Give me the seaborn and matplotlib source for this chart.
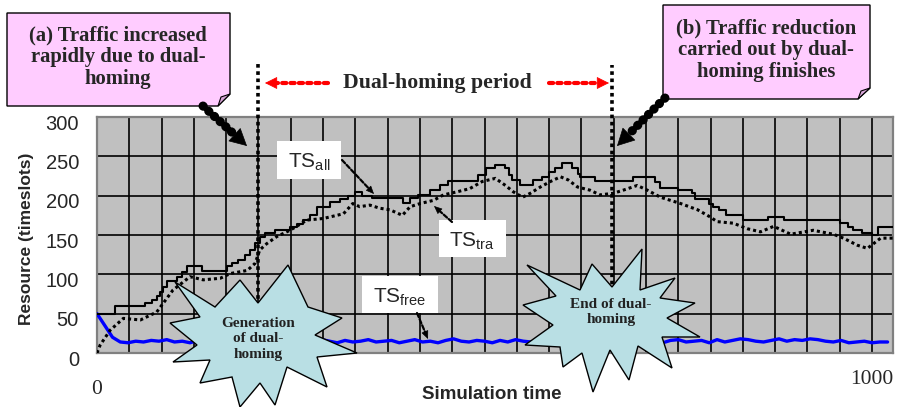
import numpy as np
import pandas as pd
import matplotlib
matplotlib.use("Agg")
import matplotlib.pyplot as plt
import seaborn as sns
from matplotlib.patches import Polygon, Rectangle, FancyArrowPatch
from matplotlib.lines import Line2D
import matplotlib.transforms as mtransforms

# ---------------- data ----------------
all_t = [0, 23, 62, 71, 77, 81, 85, 90, 103, 110, 116, 136, 168, 174, 182, 191, 197, 204,
         210, 217, 230, 249, 258, 266, 275, 284, 301, 314, 324, 333, 342, 355, 395, 404,
         414, 430, 443, 453, 492, 502, 514, 527, 531, 536, 546, 563, 574, 583, 591, 600,
         613, 620, 623, 643, 691, 720, 727, 750, 768, 772, 789, 795, 802, 811, 834, 866,
         886, 959, 969, 975, 987, 1000, 1008, 1027]
all_v = [50, 60, 64, 68, 72, 78, 84, 91, 96, 103, 110, 104, 110, 114, 118, 125, 131, 140,
         148, 152, 156, 160, 164, 169, 175, 186, 192, 196, 199, 205, 199, 197, 191, 197,
         201, 207, 213, 219, 226, 235, 239, 235, 226, 220, 214, 220, 224, 230, 235, 241,
         235, 228, 224, 219, 224, 218, 210, 207, 203, 196, 190, 186, 182, 175, 169, 173,
         169, 165, 160, 156, 152, 150, 160, 160]

tra_t = [0, 4, 17, 34, 56, 77, 98, 120, 137, 159, 172, 194, 204, 210, 219, 232, 249, 271,
         292, 318, 330, 339, 352, 365, 378, 394, 404, 417, 434, 447, 465, 481, 497, 514,
         527, 537, 549, 559, 572, 585, 598, 608, 620, 636, 649, 666, 679, 697, 710, 727,
         753, 775, 791, 800, 821, 839, 856, 873, 895, 924, 950, 963, 981, 994, 1011, 1027]
tra_v = [0, 10, 29, 44, 42, 52, 80, 97, 93, 95, 101, 105, 114, 131, 139, 148, 156, 169,
         171, 177, 190, 186, 188, 184, 182, 175, 186, 190, 194, 201, 205, 209, 218, 222,
         213, 205, 198, 203, 211, 218, 224, 220, 211, 207, 201, 203, 207, 213, 207, 198,
         190, 182, 173, 167, 165, 158, 154, 161, 151, 156, 151, 146, 137, 133, 146, 146]

free_t = list(range(0, 1030, 10))
free_v = [50, 35, 20, 14, 13, 15, 14, 16, 15, 17, 14, 15, 13, 16, 15, 14, 17, 15, 13, 16,
          14, 15, 17, 14, 15, 13, 16, 15, 14, 17, 15, 13, 16, 14, 15, 17, 14, 15, 16, 13,
          15, 17, 14, 15, 13, 16, 18, 15, 14, 16, 15, 13, 16, 14, 17, 15, 14, 16, 13, 15,
          17, 14, 15, 16, 13, 15, 17, 15, 14, 16, 18, 14, 15, 13, 16, 17, 14, 15, 16, 13,
          17, 14, 16, 18, 17, 15, 14, 16, 18, 15, 17, 16, 18, 17, 15, 14, 16, 13, 14, 15,
          13, 14, 14]

dh_start, dh_end = 208, 665
x_ticks = [0, 1000]
y_ticks = [0, 50, 100, 150, 200, 250, 300]

df_all = pd.DataFrame({"t": all_t, "v": all_v})
df_tra = pd.DataFrame({"t": tra_t, "v": tra_v})
df_free = pd.DataFrame({"t": free_t, "v": free_v})

# ---------------- figure ----------------
sns.set_theme(style="white")
plt.rcParams["font.family"] = ["Liberation Sans", "DejaVu Sans"]

W, H = 898, 407
fig = plt.figure(figsize=(W / 100, H / 100), dpi=100)
ax = fig.add_axes([97 / W, 1 - 353 / H, (893 - 97) / W, (353 - 117) / H])
ax.set_facecolor("#C0C0C0")

sns.lineplot(data=df_free, x="t", y="v", ax=ax, color="#0000FF", lw=2.4,
             estimator=None, zorder=3)
sns.lineplot(data=df_tra, x="t", y="v", ax=ax, color="black", lw=2.2,
             linestyle=(0, (1, 1)), estimator=None, zorder=3)
sns.lineplot(data=df_all, x="t", y="v", ax=ax, color="black", lw=1.5,
             drawstyle="steps-post", estimator=None, zorder=3)

ax.set_xlim(0, 1027)
ax.set_ylim(0, 300)
ax.set_xticks(x_ticks)
ax.set_xticks(np.arange(0, 1027, 1000 / 24), minor=True)
ax.set_yticks(y_ticks)
ax.grid(True, which="both", axis="x", color="black", lw=1.2, zorder=1)
ax.grid(True, which="major", axis="y", color="black", lw=1.2, zorder=1)
ax.set_axisbelow(True)
ax.tick_params(axis="both", which="both", length=0)
ax.tick_params(axis="y", labelsize=14.5, pad=13)
ax.tick_params(axis="x", labelsize=15.5, pad=13)
for lab in ax.get_xticklabels():
    lab.set_fontfamily("Liberation Serif")
xl = ax.get_xticklabels()
xl[0].set_transform(xl[0].get_transform() + mtransforms.ScaledTranslation(0, -9 / 100, fig.dpi_scale_trans))
xl[1].set_transform(xl[1].get_transform() + mtransforms.ScaledTranslation(0, 1 / 100, fig.dpi_scale_trans))
for lab in ax.get_yticklabels():
    lab.set_transform(lab.get_transform() + mtransforms.ScaledTranslation(0, -5 / 100, fig.dpi_scale_trans))
for s in ax.spines.values():
    s.set_color("#808080")
    s.set_linewidth(1.6)

ax.set_xlabel("Simulation time", fontsize=13.5, fontweight="bold")
ax.set_ylabel("Resource (timeslots)", fontsize=12.5, fontweight="bold")
ax.xaxis.set_label_coords((492 - 97) / 796, (353 - 386) / 236)
ax.yaxis.set_label_coords((34 - 97) / 796, (353 - 239) / 236)

# vertical dual-homing lines
ax.plot([dh_start, dh_start], [60, 370], color="black", lw=2.6, linestyle=(0, (1, 1)),
        clip_on=False, zorder=4)
ax.plot([dh_end, dh_end], [60, 366], color="black", lw=2.6, linestyle=(0, (1, 1)),
        clip_on=False, zorder=4)


def F(px, py):
    return (px / W, 1 - py / H)


def fig_poly(pts, fc, ec, lw=1.0, z=6):
    p = Polygon([F(*q) for q in pts], closed=True, transform=fig.transFigure,
                facecolor=fc, edgecolor=ec, lw=lw, zorder=z)
    fig.add_artist(p)


def dotted_arrow(p0, p1, color, lw, head, dots=(0, (0.1, 1.6)), hw=0.45, z=7):
    x0, y0 = p0
    x1, y1 = p1
    d = np.hypot(x1 - x0, y1 - y0)
    ux, uy = (x1 - x0) / d, (y1 - y0) / d
    cut = head * 0.9
    xs = [F(x0, y0)[0], F(x1 - ux * cut, y1 - uy * cut)[0]]
    ys = [F(x0, y0)[1], F(x1 - ux * cut, y1 - uy * cut)[1]]
    ln = Line2D(xs, ys, transform=fig.transFigure, color=color, lw=lw,
                linestyle=dots, dash_capstyle="round", solid_capstyle="round", zorder=z)
    fig.add_artist(ln)
    ms = head / 1.389 / 0.8
    ar = FancyArrowPatch(F(x1 - ux * head * 1.05, y1 - uy * head * 1.05), F(x1, y1),
                         transform=fig.transFigure,
                         arrowstyle=f"-|>,head_length=0.8,head_width={hw}",
                         mutation_scale=ms, color=color, lw=0.5,
                         shrinkA=0, shrinkB=0, zorder=z)
    fig.add_artist(ar)


# pink callout boxes with folded corner
pink = "#FFCCFF"
fig_poly([(7, 13), (230, 13), (230, 94), (218, 106), (7, 106)], pink, "black", 1.0)
fig_poly([(230, 94), (218, 106), (221, 97)], "#D9A6D9", "black", 0.8)
fig.text(*F(118, 57), "(a) Traffic increased\nrapidly due to dual-\nhoming",
         ha="center", va="center", fontsize=14.9, fontweight="bold",
         family="Liberation Serif", linespacing=1.12, zorder=8)

fig_poly([(663, 5), (870, 5), (870, 88), (858, 99), (663, 99)], pink, "black", 1.0)
fig_poly([(870, 88), (858, 99), (861, 91)], "#D9A6D9", "black", 0.8)
fig.text(*F(766, 50), "(b) Traffic reduction\ncarried out by dual-\nhoming finishes",
         ha="center", va="center", fontsize=14.9, fontweight="bold",
         family="Liberation Serif", linespacing=1.12, zorder=8)

# big dotted arrows from callouts
dotted_arrow((203, 106), (247, 146), "black", 6.5, 16, dots=(0, (0.05, 0.8)), hw=0.42)
dotted_arrow((665, 98), (617, 146), "black", 6.5, 16, dots=(0, (0.05, 0.8)), hw=0.42)

# Dual-homing period
fig.text(*F(437, 83), "Dual-homing period", ha="center", va="center", fontsize=15.7,
         fontweight="bold", family="Liberation Serif", zorder=8)
dotted_arrow((328, 83), (265, 83), "red", 3, 11, dots=(0, (1, 1)), hw=0.4)
dotted_arrow((549, 83), (609, 83), "red", 3, 11, dots=(0, (1, 1)), hw=0.4)

# starbursts
star_fc = "#B9DFE4"
star1 = [(175, 282), (215, 307), (240, 280), (258, 303), (288, 265), (308, 307), (342, 318),
         (315, 335), (357, 353), (317, 357), (327, 387), (287, 367), (275, 405), (260, 383),
         (240, 407), (232, 377), (200, 383), (210, 360), (173, 362), (197, 345), (170, 323),
         (200, 317)]
fig_poly(star1, star_fc, "black", 1.0, z=6)
fig.text(*F(258, 339), "Generation\nof dual-\nhoming", ha="center", va="center",
         fontsize=11, fontweight="bold", family="Liberation Serif", linespacing=1.25,
         color="#222222", zorder=8)

star2 = [(527, 265), (580, 290), (592, 264), (612, 287), (642, 249), (640, 290), (675, 278),
         (660, 298), (695, 303), (667, 318), (700, 337), (662, 337), (672, 368), (638, 346),
         (629, 380), (610, 350), (593, 392), (582, 353), (563, 367), (560, 347), (525, 345),
         (553, 325), (523, 305), (556, 296)]
fig_poly(star2, star_fc, "black", 1.0, z=6)
fig.text(*F(611, 312), "End of dual-\nhoming", ha="center", va="center",
         fontsize=11, fontweight="bold", family="Liberation Serif", linespacing=1.25,
         color="#222222", zorder=8)

# TS labels
def ts_label(box, text, center):
    x0, y0, x1, y1 = box
    r = Rectangle(F(x0, y1), (x1 - x0) / W, (y1 - y0) / H, transform=fig.transFigure,
                  facecolor="white", edgecolor="none", zorder=6)
    fig.add_artist(r)
    fig.text(*F(*center), text, ha="center", va="center", fontsize=15,
             family="Liberation Sans", zorder=8)


ts_label((277, 141, 341, 179), r"TS$_\mathregular{all}$", (309, 162))
ts_label((439, 220, 506, 257), r"TS$_\mathregular{tra}$", (472, 241))
ts_label((362, 276, 438, 313), r"TS$_\mathregular{free}$", (400, 297))

dotted_arrow((342, 160), (374, 194), "black", 1.6, 7, dots=(0, (2, 1)), hw=0.35)
dotted_arrow((452, 222), (434, 206), "black", 1.6, 7, dots=(0, (2, 1)), hw=0.35)
dotted_arrow((417, 313), (428, 339), "black", 1.6, 7, dots=(0, (2, 1)), hw=0.35)

fig.savefig("out.png", dpi=100)
